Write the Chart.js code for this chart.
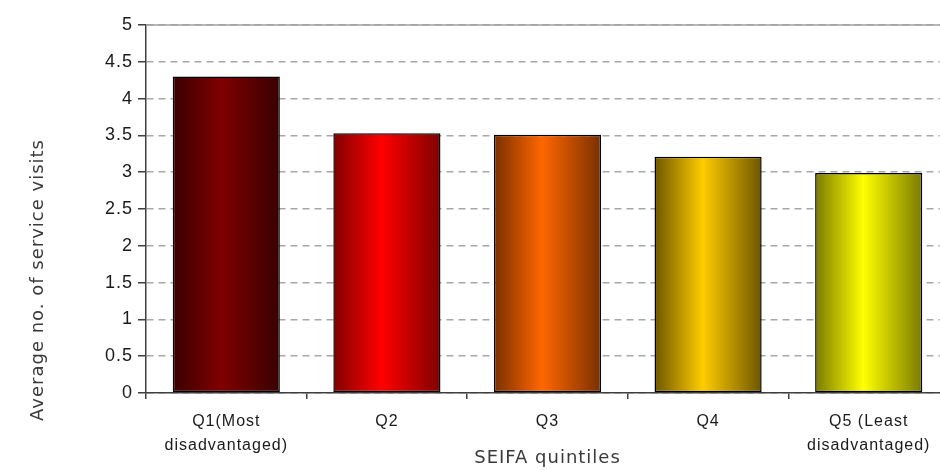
<!DOCTYPE html>
<html>
<head>
<meta charset="utf-8">
<script src="https://cdn.jsdelivr.net/npm/chart.js@4"></script>
<style>
  html, body { margin: 0; padding: 0; overflow: hidden; background: #fff; }
  #wrap { width: 950px; height: 470px; }
</style>
</head>
<body>
<div id="wrap"><canvas id="myChart"></canvas></div>
<script>
const quintiles = [['Q1(Most', 'disadvantaged)'], 'Q2', 'Q3', 'Q4', ['Q5 (Least', 'disadvantaged)']];
const avgVisits = [4.30, 3.53, 3.51, 3.21, 2.99];
// bright centre colour and dark edge colour for each bar
const barCentre = ['#800000', '#ff0000', '#ff6600', '#ffcc00', '#ffff00'];
const barEdge = ['#380000', '#800000', '#7a3000', '#6e5600', '#7a7a00'];
const yTicks = [0, 0.5, 1, 1.5, 2, 2.5, 3, 3.5, 4, 4.5, 5];
const yTitle = 'Average no. of service visits';

const ctx = document.getElementById('myChart');

function barFill(context) {
  const chart = context.chart;
  const i = context.dataIndex;
  const xs = chart.scales.x;
  if (!chart.chartArea || !xs || xs.width === undefined) return barCentre[i];
  const mid = xs.getPixelForValue(i);
  const half = (xs.width / quintiles.length) * 0.667 / 2;
  const g = chart.ctx.createLinearGradient(mid - half, 0, mid + half, 0);
  g.addColorStop(0, barEdge[i]);
  g.addColorStop(0.45, barCentre[i]);
  g.addColorStop(1, barEdge[i]);
  return g;
}

// slightly spaced-out lettering for all the chart text
const spacing = {
  id: 'spacing',
  beforeUpdate(chart) { chart.ctx.letterSpacing = '1px'; },
  beforeDraw(chart) { chart.ctx.letterSpacing = '1px'; }
};

// solid line along the top of the plot area, plus the y axis title
// which sits lower than the plot centre
const extras = {
  id: 'extras',
  afterDraw(chart) {
    const a = chart.chartArea;
    const c = chart.ctx;
    c.save();
    c.strokeStyle = '#a0a0a0';
    c.lineWidth = 1.5;
    c.beginPath();
    c.moveTo(a.left, a.top);
    c.lineTo(a.right, a.top);
    c.stroke();
    c.restore();

    c.save();
    c.letterSpacing = '1px';
    c.translate(38, 280);
    c.rotate(-Math.PI / 2);
    c.fillStyle = '#3a3a3a';
    c.font = '18px "DejaVu Sans"';
    c.textAlign = 'center';
    c.textBaseline = 'middle';
    c.fillText(yTitle, 0, 0);
    c.restore();
  }
};

new Chart(ctx, {
  type: 'bar',
  data: {
    labels: quintiles,
    datasets: [{
      label: yTitle,
      data: avgVisits,
      backgroundColor: barFill,
      borderColor: '#000',
      borderWidth: 1.5,
      borderSkipped: false,
      categoryPercentage: 0.667,
      barPercentage: 1
    }]
  },
  options: {
    responsive: true,
    maintainAspectRatio: false,
    animation: false,
    layout: { padding: { left: 22, right: 1, top: 25, bottom: 0 } },
    plugins: {
      legend: { display: false },
      tooltip: { enabled: false }
    },
    scales: {
      x: {
        grid: {
          offset: true,
          drawOnChartArea: false,
          drawTicks: true,
          tickLength: 6,
          color: '#404040',
          lineWidth: 1.5
        },
        border: { color: '#404040', width: 1.5 },
        ticks: {
          color: '#1a1a1a',
          font: { family: 'Liberation Sans', size: 16, lineHeight: 1.5 },
          maxRotation: 0,
          autoSkip: false,
          padding: 11
        },
        title: {
          display: true,
          text: 'SEIFA quintiles',
          color: '#3a3a3a',
          font: { family: 'DejaVu Sans', size: 18 },
          padding: { top: 0, bottom: 1 }
        },
        afterFit(scale) { scale.height = 77; }
      },
      y: {
        min: 0,
        max: 5,
        afterBuildTicks(scale) { scale.ticks = yTicks.map(v => ({ value: v })); },
        grid: {
          color: '#a8a8a8',
          lineWidth: 1.5,
          drawTicks: true,
          tickLength: 8,
          tickColor: '#404040',
          tickBorderDash: [0, 0]
        },
        border: { color: '#404040', width: 1.5, dash: [7, 5] },
        ticks: {
          color: '#1a1a1a',
          font: { family: 'Liberation Sans', size: 18 },
          padding: 5,
          callback: (v) => String(v)
        },
        afterFit(scale) { scale.width = 146 - 22; }
      }
    }
  },
  plugins: [spacing, extras]
});
</script>
</body>
</html>
